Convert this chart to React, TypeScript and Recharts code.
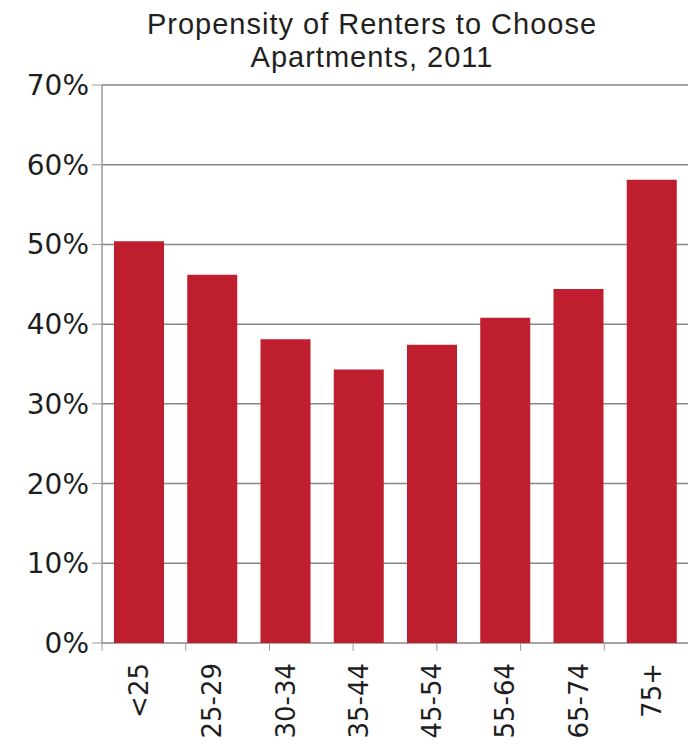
import React from 'react'
import { BarChart, Bar, XAxis, YAxis, CartesianGrid } from 'recharts'

const AGE_GROUPS = ['<25', '25-29', '30-34', '35-44', '45-54', '55-64', '65-74', '75+']
const APARTMENT_SHARE = [50.4, 46.2, 38.1, 34.3, 37.4, 40.8, 44.4, 58.1]
const Y_TICKS = [0, 10, 20, 30, 40, 50, 60, 70]
// small decorative ticks under the baseline
const MINOR_TICKS = [0, 1, 2, 3, 4, 5, 6, 7, 8, 9, 10, 11, 12]
const TITLE_LINES = ['Propensity of Renters to Choose', 'Apartments, 2011']

const BAR_RED = '#be1e2d'
const GRID_GREY = '#8c8584'
const AXIS_GREY = '#9a9a9a'
const LABEL_FONT = '"DejaVu Sans", sans-serif'

const data = AGE_GROUPS.map((age, i) => ({ age, share: APARTMENT_SHARE[i] }))

const AgeTick = (props: any) => {
  const { x, y, payload } = props
  return (
    <g transform={`translate(${x},${y})`}>
      <text
        transform="rotate(-90)"
        textAnchor="end"
        dy="0.36em"
        fill="#1e1e1e"
        fontSize={26}
        fontFamily={LABEL_FONT}
      >
        {payload.value}
      </text>
    </g>
  )
}

// tick marks only, no labels
const NoLabel = () => <g />

const App: React.FC = () => {
  return (
    <div
      style={{
        position: 'absolute',
        left: 0,
        top: 0,
        width: 695,
        height: 752,
        overflow: 'hidden',
        background: '#fff',
      }}
    >
      {TITLE_LINES.map((line, i) => (
        <div
          key={line}
          style={{
            position: 'absolute',
            left: 100,
            top: 8 + i * 33,
            width: 544,
            textAlign: 'center',
            fontFamily: '"Liberation Sans", sans-serif',
            fontSize: 29,
            letterSpacing: 1,
            lineHeight: '32px',
            color: '#231f20',
            whiteSpace: 'nowrap',
          }}
        >
          {line}
        </div>
      ))}
      <BarChart
        width={695}
        height={752}
        data={data}
        margin={{ top: 85, right: 7, bottom: 0, left: 0 }}
      >
        <CartesianGrid xAxisId="age" vertical={false} stroke={GRID_GREY} strokeWidth={1.5} />
        <XAxis
          xAxisId={0}
          type="number"
          domain={[0, 12]}
          ticks={MINOR_TICKS}
          allowDataOverflow
          height={1}
          tick={<NoLabel />}
          axisLine={false}
          tickLine={{ stroke: AXIS_GREY }}
          tickSize={8}
        />
        <XAxis
          xAxisId="age"
          dataKey="age"
          height={108}
          interval={0}
          axisLine={false}
          tickLine={false}
          tickSize={0}
          tickMargin={19}
          tick={<AgeTick />}
        />
        <YAxis
          width={102}
          domain={[0, 70]}
          ticks={Y_TICKS}
          interval={0}
          tickFormatter={(v: number) => `${v}%`}
          axisLine={{ stroke: AXIS_GREY, strokeWidth: 1.5 }}
          tickLine={{ stroke: AXIS_GREY }}
          tickSize={10}
          tickMargin={3}
          tick={{ fill: '#1e1e1e', fontSize: 28, fontFamily: LABEL_FONT }}
        />
        <Bar
          xAxisId="age"
          dataKey="share"
          fill={BAR_RED}
          barSize={50}
          isAnimationActive={false}
        />
      </BarChart>
    </div>
  )
}

export default App
